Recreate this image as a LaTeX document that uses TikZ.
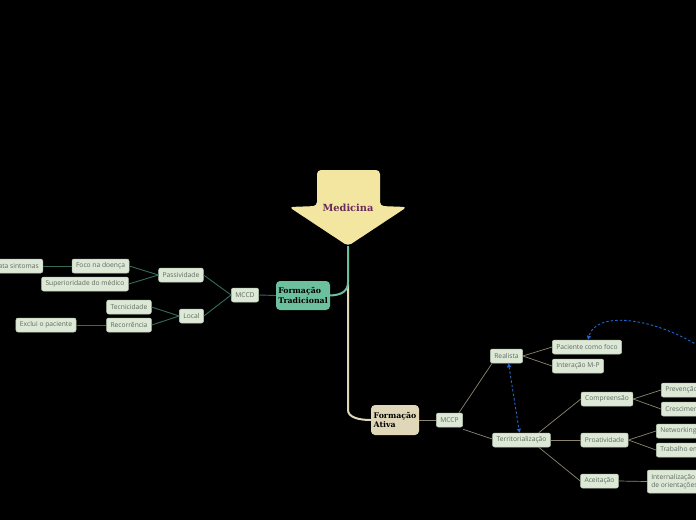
\documentclass[tikz,border=0pt]{standalone}
\usepackage{fontspec}
\setmainfont{Open Sans}
\newfontfamily\titlefont{DejaVu Serif}
\usetikzlibrary{arrows.meta}
\definecolor{bgc}{HTML}{000000}
\definecolor{leaffill}{HTML}{DDE8D6}
\definecolor{leafdraw}{HTML}{B9C9B2}
\definecolor{leaftext}{HTML}{5E6B5E}
\definecolor{tealc}{HTML}{6CC09E}
\definecolor{beigec}{HTML}{E0D7B9}
\definecolor{arrowy}{HTML}{F2E6A0}
\definecolor{medtext}{HTML}{6B2A5C}
\definecolor{darkteal}{HTML}{356B5C}
\definecolor{rightline}{HTML}{8C8670}
\definecolor{bluedash}{HTML}{2266CC}
\tikzset{
  leaf/.style={draw=leafdraw, line width=0.5pt, fill=leaffill, rounded corners=2pt,
    text=leaftext, font=\fontsize{6.7}{7.8}\selectfont, minimum height=14pt,
    inner xsep=4pt, inner ysep=0pt},
  topic/.style={rounded corners=4pt, font=\titlefont\bfseries\fontsize{7.8}{9.5}\selectfont,
    align=left, text=black, inner sep=0pt},
  lconn/.style={draw=darkteal, line width=0.9pt},
  rconn/.style={draw=rightline, line width=0.7pt},
  bdash/.style={draw=bluedash, line width=0.9pt, dash pattern=on 2.5pt off 2pt},
  btip/.tip={Triangle[length=4pt,width=4pt]},
}
\begin{document}
\begin{tikzpicture}[x=1pt,y=-1pt]
\useasboundingbox (0,0) rectangle (696,520);
\fill[bgc] (0,0) rectangle (696,520);
\clip (0,0) rectangle (696,520);

% central arrow
\fill[arrowy, rounded corners=4pt] (317,170) -- (380,170) -- (380,206) -- (407,207) -- (348,246) -- (289,207) -- (317,206) -- cycle;
\node[text=medtext, font=\titlefont\bfseries\fontsize{9.8}{11}\selectfont] (med) at (348,208) {Medicina};
\coordinate (medtip) at (348,246);

% main topics
\node[topic, fill=tealc, minimum width=54pt, minimum height=29pt] (ft) at (303,295.5) {Formação\\Tradicional};
\node[topic, fill=beigec, minimum width=48pt, minimum height=30pt] (fa) at (395,420) {Formação\\Ativa};

\draw[beigec, line width=2pt] (348,284) -- (348,410) .. controls (348,417) and (358,420) .. (fa.west);
\draw[tealc, line width=2pt] (medtip) -- (348,282) .. controls (348,291) and (342,295) .. (ft.east);

% left side
\node[leaf] (mccd) at (245,295) {MCCD};
\node[leaf] (pass) at (181,275) {Passividade};
\node[leaf] (local) at (191.5,316) {Local};
\node[leaf] (foco) at (100.5,266) {Foco na doença};
\node[leaf] (sup) at (85,284) {Superioridade do médico};
\node[leaf, anchor=east] (trata) at (43,266) {Trata sintomas};
\node[leaf] (tec) at (129,307) {Tecnicidade};
\node[leaf] (rec) at (129,325) {Recorrência};
\node[leaf] (excl) at (46,325) {Exclui o paciente};

\draw[lconn] (ft.west) -- (mccd.east);
\draw[lconn] (mccd.west) -- (pass.east);
\draw[lconn] (mccd.west) -- (local.east);
\draw[lconn] (pass.west) -- (foco.east);
\draw[lconn] (pass.west) -- (sup.east);
\draw[lconn] (foco.west) -- (trata.east);
\draw[lconn] (local.west) -- (tec.east);
\draw[lconn] (local.west) -- (rec.east);
\draw[lconn] (rec.west) -- (excl.east);

% right side
\node[leaf] (mccp) at (449.5,420) {MCCP};
\node[leaf] (real) at (506.5,356) {Realista};
\node[leaf] (terr) at (521.5,440) {Territorialização};
\node[leaf] (pcf) at (587,347) {Paciente como foco};
\node[leaf] (imp) at (578,366) {Interação M-P};
\node[leaf] (comp) at (607,399) {Compreensão};
\node[leaf] (proa) at (604.5,440) {Proatividade};
\node[leaf] (acei) at (599.5,481) {Aceitação};
\node[leaf, anchor=west] (prev) at (661,390) {Prevenção};
\node[leaf, anchor=west] (cresc) at (661,409) {Crescimento};
\node[leaf, anchor=west] (net) at (656,431) {Networking};
\node[leaf, anchor=west] (trab) at (656,450) {Trabalho em equipe};
\node[leaf, anchor=west, align=left, minimum height=23pt] (intern) at (647,481.5) {Internalização\\de orientações};

\draw[rconn] (fa.east) -- (mccp.west);
\draw[rconn] ([xshift=-4pt]mccp.north east) -- ([xshift=2pt]real.south west);
\draw[rconn] ([yshift=-2pt]mccp.south east) -- ([yshift=1pt]terr.west);
\draw[rconn] (real.east) -- (pcf.west);
\draw[rconn] (real.east) -- (imp.west);
\draw[rconn] ([xshift=-12pt]terr.north east) -- (comp.west);
\draw[rconn] (terr.east) -- (proa.west);
\draw[rconn] ([xshift=-12pt]terr.south east) -- (acei.west);
\draw[rconn] (comp.east) -- (prev.west);
\draw[rconn] (comp.east) -- (cresc.west);
\draw[rconn] (proa.east) -- (net.west);
\draw[rconn] (proa.east) -- (trab.west);
\draw[rconn] (acei.east) -- (intern.west);

% dashed relations
\draw[bdash, btip-btip] ([xshift=2pt]real.south) -- ([xshift=-2pt]terr.north);
\coordinate (offr) at (702,348);
\draw[bdash, -btip] (offr) .. controls (650,315) and (595,312) .. ([xshift=1pt]pcf.north);
\end{tikzpicture}
\end{document}
